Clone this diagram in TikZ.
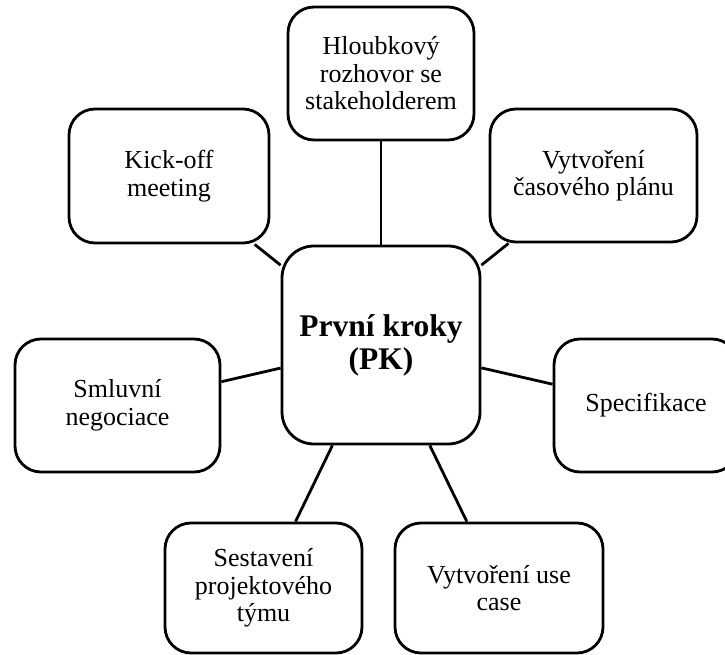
\documentclass[tikz,border=0pt]{standalone}
\usepackage{fontspec}
\setmainfont{Liberation Serif}
\begin{document}
\begin{tikzpicture}[x=1pt,y=-1pt,
  box/.style={draw, line width=2.8pt, rounded corners=26pt, align=center,
    inner sep=0pt, font=\fontsize{26}{27.5}\selectfont},
  hub/.style={box, rounded corners=32pt, minimum width=198pt, minimum height=198pt,
    font=\fontsize{31.5}{33}\selectfont\bfseries},
  link/.style={line width=2.8pt}]
\useasboundingbox (0,0) rectangle (725,655);
\clip (0,0) rectangle (725,655);

\node[hub] (pk) at (381,345) {První kroky\\(PK)};

\node[box, minimum width=186pt, minimum height=133pt] (hl) at (381,73.5)
  {Hloubkový\\rozhovor se\\stakeholderem};
\node[box, minimum width=200pt, minimum height=134pt] (ko) at (169,176)
  {Kick-off\\meeting};
\node[box, minimum width=207pt, minimum height=133pt] (cp) at (593.5,175.5)
  {Vytvoření\\časového plánu};
\node[box, minimum width=205pt, minimum height=133pt] (sm) at (117.5,405.5)
  {Smluvní\\negociace};
\node[box, minimum width=184pt, minimum height=133pt] (sp) at (646,405.5)
  {Specifikace};
\node[box, minimum width=197pt, minimum height=130pt] (se) at (263.5,588)
  {Sestavení\\projektového\\týmu};
\node[box, minimum width=208pt, minimum height=130pt] (uc) at (499,588)
  {Vytvoření use\\case};

\foreach \n in {hl,ko,cp,sm,sp,se,uc}
  \draw[link] (pk) -- (\n);
\end{tikzpicture}
\end{document}
